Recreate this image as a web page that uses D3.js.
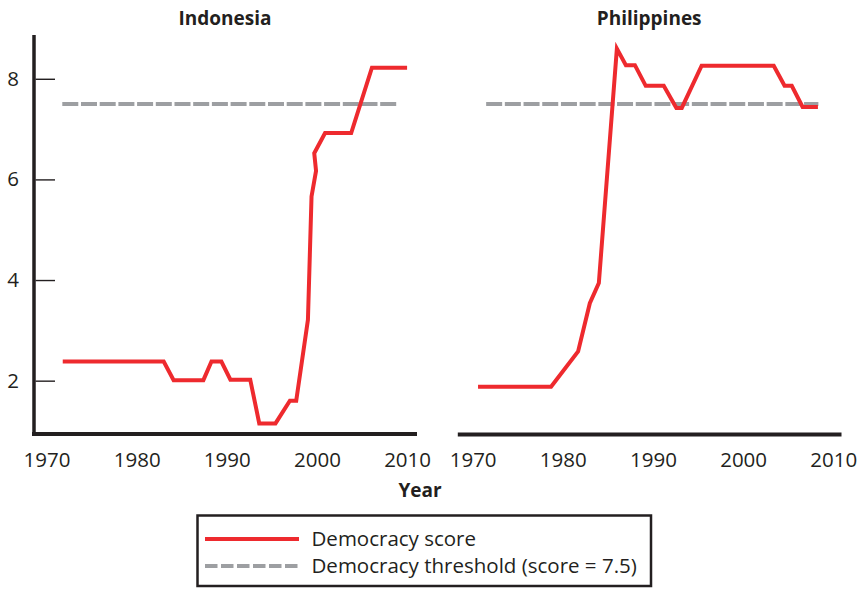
<!DOCTYPE html>
<html><head><meta charset="utf-8">
<script src="https://cdn.jsdelivr.net/npm/d3@7"></script>
<style>
html,body{margin:0;padding:0;background:#fff;}
svg{display:block;font-family:"Open Sans",sans-serif;}
</style></head>
<body>
<svg id="c" width="861" height="589"></svg>
<script>
const panels = ["Indonesia", "Philippines"];
const xTicks = [1970, 1980, 1990, 2000, 2010];
const yTicks = [2, 4, 6, 8];
const threshold = 7.5;
const indoYears  = [1971.8, 1983.0, 1984.1, 1987.4, 1988.3, 1989.4, 1990.4, 1992.6, 1993.6, 1995.4, 1997.0, 1997.7, 1999.0, 1999.4, 1999.9, 1999.7, 2000.9, 2003.8, 2006.1, 2010.0];
const indoScores = [2.38, 2.38, 2.01, 2.01, 2.38, 2.38, 2.02, 2.02, 1.15, 1.15, 1.6, 1.6, 3.21, 5.66, 6.17, 6.52, 6.92, 6.92, 8.22, 8.22];
const phYears  = [1970.6, 1978.7, 1981.7, 1983.0, 1984.0, 1986.0, 1987.0, 1988.0, 1989.2, 1991.2, 1992.6, 1993.2, 1995.4, 2003.4, 2004.6, 2005.4, 2006.6, 2008.3];
const phScores = [1.88, 1.88, 2.58, 3.54, 3.94, 8.6, 8.27, 8.27, 7.86, 7.86, 7.42, 7.42, 8.26, 8.26, 7.86, 7.86, 7.44, 7.44];
const thresholdSpans = [[1971.75, 2008.8], [1971.5, 2008.35]];
const legendLabels = ["Democracy score", "Democracy threshold (score = 7.5)"];

const RED = "#ee2a2e", GREY = "#9d9fa2", INK = "#231f20";
const FS = 20.5;
const svg = d3.select("#c");

const y = d3.scaleLinear().domain([0.94, 8.87]).range([434, 35]);
const xs = [
  d3.scaleLinear().domain([1968.5, 2011.1]).range([33, 417]),
  d3.scaleLinear().domain([1968.3, 2010.86]).range([457.3, 841])
];
const series = [
  indoYears.map((d, i) => [d, indoScores[i]]),
  phYears.map((d, i) => [d, phScores[i]])
];

panels.forEach((name, p) => {
  const x = xs[p];
  const g = svg.append("g");
  // x axis
  const ax = g.append("g").attr("transform", "translate(0,434)")
    .call(d3.axisBottom(x).tickValues(xTicks).tickFormat(d3.format("d")).tickSize(0).tickPadding(18).tickSizeOuter(0));
  ax.select(".domain").attr("stroke", INK).attr("stroke-width", 4);
  ax.selectAll("text").attr("font-size", FS).attr("fill", INK).attr("font-family", "Open Sans");
  if (p === 0) {
    ax.select(".domain").attr("d", `M${x.range()[0] - 1},0H${x.range()[1]}`);
    const ay = g.append("g").attr("transform", `translate(34,0)`)
      .call(d3.axisLeft(y).tickValues(yTicks).tickSize(-21).tickPadding(15).tickSizeOuter(0));
    ay.select(".domain").attr("stroke", INK).attr("stroke-width", 3.5).attr("d", `M0,35V436`);
    ay.selectAll(".tick line").attr("stroke", INK).attr("stroke-width", 1.4).attr("x1", 1.5);
    ay.selectAll("text").attr("font-size", FS).attr("fill", INK).attr("font-family", "Open Sans");
  }
  // threshold
  g.append("line")
    .attr("x1", x(thresholdSpans[p][0])).attr("x2", x(thresholdSpans[p][1]))
    .attr("y1", y(threshold)).attr("y2", y(threshold))
    .attr("stroke", GREY).attr("stroke-width", 4).attr("stroke-dasharray", "16,2.7");
  // score line
  g.append("path").datum(series[p])
    .attr("d", d3.line().x(d => x(d[0])).y(d => y(d[1])))
    .attr("fill", "none").attr("stroke", RED).attr("stroke-width", 4)
    .attr("stroke-linejoin", "miter").attr("stroke-miterlimit", 10);
  // title
  g.append("text").attr("x", (x.range()[0] + x.range()[1]) / 2).attr("y", 25)
    .attr("text-anchor", "middle").attr("font-weight", "bold").attr("font-size", 19)
    .attr("fill", INK).text(name);
});

svg.append("text").attr("x", 420).attr("y", 497).attr("text-anchor", "middle")
  .attr("font-weight", "bold").attr("font-size", 19).attr("fill", INK).text("Year");

// legend
const lg = svg.append("g");
lg.append("rect").attr("x", 197.5).attr("y", 515.5).attr("width", 453.5).attr("height", 70.5)
  .attr("fill", "#fff").attr("stroke", INK).attr("stroke-width", 2.5);
const lgY = [539, 566];
lg.append("line").attr("x1", 205).attr("x2", 299).attr("y1", lgY[0]).attr("y2", lgY[0])
  .attr("stroke", RED).attr("stroke-width", 4);
lg.append("line").attr("x1", 205).attr("x2", 299).attr("y1", lgY[1]).attr("y2", lgY[1])
  .attr("stroke", GREY).attr("stroke-width", 4).attr("stroke-dasharray", "12.5,3.5");
legendLabels.forEach((t, i) => {
  lg.append("text").attr("x", 311.5).attr("y", lgY[i] + 7).attr("font-size", FS)
    .attr("fill", INK).text(t);
});
</script>
</body></html>
